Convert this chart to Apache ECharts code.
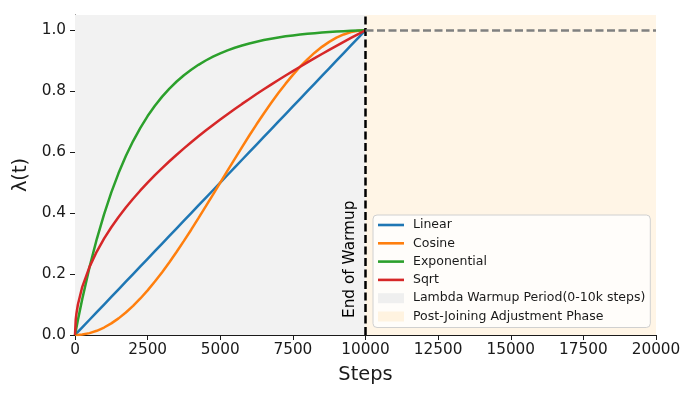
<!DOCTYPE html>
<html>
<head>
<meta charset="utf-8">
<script src="https://cdn.jsdelivr.net/npm/echarts@6/dist/echarts.min.js"></script>
<style>
  html, body { margin: 0; padding: 0; background: #fff; }
  #chart { width: 698px; height: 399px; }
</style>
</head>
<body>
<div id="chart"></div>
<script>
// steps sampled along the warmup period
var steps = [0, 25, 50, 100, 250, 500, 750, 1000, 1250, 1500, 1750, 2000, 2250, 2500,
  2750, 3000, 3250, 3500, 3750, 4000, 4250, 4500, 4750, 5000,
  5250, 5500, 5750, 6000, 6250, 6500, 6750, 7000, 7250, 7500,
  7750, 8000, 8250, 8500, 8750, 9000, 9250, 9500, 9750, 10000]

var linearVals = [0, 0.0025, 0.005, 0.01, 0.025, 0.05, 0.075, 0.1, 0.125, 0.15, 0.175, 0.2, 0.225, 0.25,
  0.275, 0.3, 0.325, 0.35, 0.375, 0.4, 0.425, 0.45, 0.475, 0.5,
  0.525, 0.55, 0.575, 0.6, 0.625, 0.65, 0.675, 0.7, 0.725, 0.75,
  0.775, 0.8, 0.825, 0.85, 0.875, 0.9, 0.925, 0.95, 0.975, 1.0]

var cosineVals = [0, 0, 0.0001, 0.0002, 0.0015, 0.0062, 0.0138, 0.0245, 0.0381, 0.0545, 0.0737, 0.0955, 0.1198, 0.1464,
  0.1753, 0.2061, 0.2388, 0.2730, 0.3087, 0.3455, 0.3833, 0.4218, 0.4608, 0.5,
  0.5392, 0.5782, 0.6167, 0.6545, 0.6913, 0.7270, 0.7612, 0.7939, 0.8247, 0.8536,
  0.8802, 0.9045, 0.9263, 0.9455, 0.9619, 0.9755, 0.9862, 0.9938, 0.9985, 1.0]

var expVals = [0, 0.0125, 0.0249, 0.0491, 0.1183, 0.2227, 0.3148, 0.3961, 0.4679, 0.5312, 0.5871, 0.6364, 0.6799, 0.7183,
  0.7522, 0.7821, 0.8085, 0.8318, 0.8524, 0.8705, 0.8865, 0.9007, 0.9131, 0.9241,
  0.9338, 0.9424, 0.9500, 0.9567, 0.9625, 0.9677, 0.9723, 0.9764, 0.9800, 0.9831,
  0.9859, 0.9883, 0.9905, 0.9924, 0.9941, 0.9956, 0.9969, 0.9981, 0.9991, 1.0]

var sqrtVals = [0, 0.05, 0.0707, 0.1, 0.1581, 0.2236, 0.2739, 0.3162, 0.3536, 0.3873, 0.4183, 0.4472, 0.4743, 0.5,
  0.5244, 0.5477, 0.5701, 0.5916, 0.6124, 0.6325, 0.6519, 0.6708, 0.6892, 0.7071,
  0.7246, 0.7416, 0.7583, 0.7746, 0.7906, 0.8062, 0.8216, 0.8367, 0.8515, 0.8660,
  0.8803, 0.8944, 0.9083, 0.9220, 0.9354, 0.9487, 0.9618, 0.9747, 0.9874, 1.0]

var yTicks = [0, 0.2, 0.4, 0.6, 0.8, 1.0]
var warmupEnd = 10000
var totalSteps = 20000

var curveNames = ['Linear', 'Cosine', 'Exponential', 'Sqrt']
var curveColors = ['#1f77b4', '#ff7f0e', '#2ca02c', '#d62728']
var curveVals = [linearVals, cosineVals, expVals, sqrtVals]
var warmName = 'Lambda Warmup Period(0-10k steps)'
var postName = 'Post-Joining Adjustment Phase'
var warmColor = '#f2f2f2'
var postColor = '#fff5e6'

var font = 'DejaVu Sans'
var ink = '#1a1a1a'

function pairs(vals){
  var out = []
  for (var i = 0; i < steps.length; i++) out.push([steps[i], vals[i]])
  return out
}

var series = []
// shaded phases
series.push({
  name: warmName, type: 'line', data: [], z: 1, silent: true,
  markArea: { silent: true, itemStyle: { color: warmColor }, data: [[{ xAxis: 0 }, { xAxis: warmupEnd }]] }
})
series.push({
  name: postName, type: 'line', data: [], z: 1, silent: true,
  markArea: { silent: true, itemStyle: { color: postColor }, data: [[{ xAxis: warmupEnd }, { xAxis: totalSteps }]] }
})
for (var k = 0; k < curveNames.length; k++) {
  series.push({
    name: curveNames[k], type: 'line', data: pairs(curveVals[k]),
    symbol: 'none', z: 3,
    lineStyle: { color: curveColors[k], width: 2.5 },
    itemStyle: { color: curveColors[k] }
  })
}
// reference lines
series.push({
  type: 'line', data: [], z: 5, silent: true,
  markLine: {
    silent: true, symbol: ['none', 'none'], label: { show: false },
    animation: false,
    data: [
      { xAxis: warmupEnd, lineStyle: { color: '#000', width: 2.5, type: [8, 3.5] } },
      [{ coord: [warmupEnd, 1], lineStyle: { color: '#808080', width: 2.5, type: [8, 3.5] } }, { coord: [totalSteps, 1] }]
    ]
  }
})

var linePath = 'path://M0,0L26,0L26,2.6L0,2.6Z'
var legendData = []
for (var k = 0; k < curveNames.length; k++) {
  legendData.push({ name: curveNames[k], icon: linePath, itemStyle: { color: curveColors[k], borderWidth: 0 } })
}
legendData.push({ name: warmName, icon: 'rect', itemStyle: { color: '#efefef', borderWidth: 0 } })
legendData.push({ name: postName, icon: 'rect', itemStyle: { color: '#fff3e0', borderWidth: 0 } })

var chart = echarts.init(document.getElementById('chart'))
var option = {
  animation: false,
  textStyle: { fontFamily: font },
  grid: { left: 75, right: 42, top: 15, bottom: 64 },
  legend: {
    data: legendData,
    orient: 'vertical',
    left: 373, top: 215,
    itemWidth: 26, itemHeight: 10,
    itemGap: 4.3,
    padding: [3, 5, 4, 5],
    backgroundColor: 'rgba(255,255,255,0.8)',
    borderColor: '#d0d0d0', borderWidth: 1, borderRadius: 4,
    selectedMode: false,
    textStyle: { fontFamily: font, fontSize: 12.5, color: ink, lineHeight: 14, padding: [0, 0, 0, 4] }
  },
  xAxis: {
    type: 'value', min: 0, max: totalSteps, interval: 2500,
    name: 'Steps', nameLocation: 'middle', nameGap: 30,
    nameTextStyle: { fontFamily: font, fontSize: 19.4, color: ink },
    axisLine: { show: true, onZero: false, lineStyle: { color: ink, width: 1 } },
    axisTick: { show: true, length: 5, lineStyle: { color: ink } },
    axisLabel: {
      fontFamily: font, fontSize: 15.3, color: ink, margin: 8,
      formatter: function (v) { return String(v) }
    },
    splitLine: { show: false }
  },
  yAxis: {
    type: 'value', min: 0, max: 1.05,
    name: 'λ(t)', nameLocation: 'middle', nameGap: 42,
    nameTextStyle: { fontFamily: font, fontSize: 19.4, color: ink },
    axisLine: { show: true, lineStyle: { color: ink, width: 1 } },
    axisTick: { show: true, length: 5, lineStyle: { color: ink }, customValues: yTicks },
    axisLabel: {
      fontFamily: font, fontSize: 15.3, color: ink, margin: 9, customValues: yTicks,
      formatter: function (v) { return v.toFixed(1) }
    },
    splitLine: { show: false }
  },
  series: series
}
chart.setOption(option)

// rotated note beside the warmup boundary
var p = chart.convertToPixel({ gridIndex: 0 }, [warmupEnd, 0])
chart.setOption({
  graphic: [{
    type: 'text', x: p[0] - 8, y: p[1] - 17, rotation: Math.PI / 2, z: 10,
    style: {
      text: 'End of Warmup', fill: '#000',
      font: '15.3px "DejaVu Sans"',
      align: 'left', verticalAlign: 'bottom',
      textAlign: 'left', textVerticalAlign: 'bottom'
    }
  }]
})
</script>
</body>
</html>
